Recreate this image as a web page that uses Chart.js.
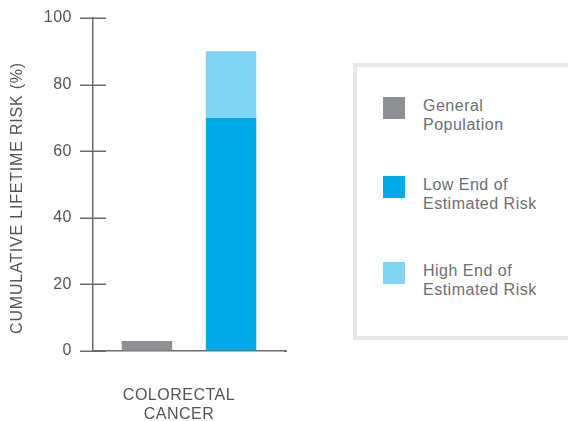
<!DOCTYPE html>
<html>
<head>
<meta charset="utf-8">
<script src="https://cdn.jsdelivr.net/npm/chart.js@4.4.1/dist/chart.umd.min.js"></script>
<style>
  html, body { margin:0; padding:0; background:#fff; overflow:hidden; }
  #wrap { position:relative; width:568px; height:421px; }
  #chartBox { position:absolute; left:0; top:0; width:300px; height:421px; }
  #legendBox {
    position:absolute; left:353px; top:63px; width:250px; height:269px;
    border:4px solid #e6e7e8; background:#fff; box-sizing:content-box;
  }
  .leg-item { position:absolute; left:26px; display:flex; align-items:flex-start; }
  .leg-item:nth-child(1) { top:30px; }
  .leg-item:nth-child(2) { top:109px; }
  .leg-item:nth-child(3) { top:195px; }
  .leg-swatch { width:22px; height:22px; flex:none; }
  .leg-text {
    margin-left:18px; margin-top:-1px;
    font:16px "Liberation Sans", Arial, sans-serif; line-height:19px;
    letter-spacing:0.5px; color:#6d6e71;
  }
</style>
</head>
<body>
<div id="wrap">
  <div id="chartBox"><canvas id="riskChart"></canvas></div>
  <div id="legendBox"></div>
</div>
<script>
// ---- data ----
const categories = [['COLORECTAL', 'CANCER']];
const generalPopulation = [3];
const lowEndRisk = [70];
const highEndRisk = [90];
const yTicks = [0, 20, 40, 60, 80, 100];
const seriesNames = [['General', 'Population'], ['Low End of', 'Estimated Risk'], ['High End of', 'Estimated Risk']];
const seriesColors = ['#8f9094', '#00aae6', '#81d5f4'];
const yTitle = 'CUMULATIVE LIFETIME RISK (%)';

const AXIS_COLOR = '#6a6a6a';
const TEXT_COLOR = '#555';
const FONT = '"Liberation Sans", Arial, sans-serif';

// tick marks that cross the y axis, baseline overhang, and the y title
const axisDecor = {
  id: 'axisDecor',
  beforeDraw(chart) { chart.ctx.letterSpacing = '0.5px'; },
  afterDraw(chart) {
    const ctx = chart.ctx, y = chart.scales.y, x = chart.scales.x;
    const x0 = y.right;
    ctx.save();
    ctx.letterSpacing = '0px';
    ctx.strokeStyle = AXIS_COLOR;
    ctx.lineWidth = 1.5;
    yTicks.forEach(v => {
      const py = Math.round(y.getPixelForValue(v)) + 0.25;
      ctx.beginPath();
      ctx.moveTo(x0 - 13, py);
      ctx.lineTo(x0 + 13, py);
      ctx.stroke();
    });
    const by = Math.round(y.getPixelForValue(0)) + 0.25;
    ctx.beginPath();
    ctx.moveTo(x.right - 1, by);
    ctx.lineTo(x.right + 2, by);
    ctx.stroke();
    ctx.translate(18, 198);
    ctx.rotate(-Math.PI / 2);
    ctx.letterSpacing = '0.8px';
    ctx.font = '16px ' + FONT;
    ctx.fillStyle = TEXT_COLOR;
    ctx.textAlign = 'center';
    ctx.textBaseline = 'middle';
    ctx.fillText(yTitle, 0, 0);
    ctx.restore();
  }
};

const datasets = [
  { label: seriesNames[0].join(' '), data: generalPopulation, backgroundColor: seriesColors[0], stack: 'gp' },
  { label: seriesNames[1].join(' '), data: lowEndRisk, backgroundColor: seriesColors[1], stack: 'est' },
  { label: seriesNames[2].join(' '), data: highEndRisk.map((v, i) => v - lowEndRisk[i]), backgroundColor: seriesColors[2], stack: 'est' }
];

new Chart(document.getElementById('riskChart'), {
  type: 'bar',
  data: { labels: categories, datasets },
  options: {
    responsive: true,
    maintainAspectRatio: false,
    animation: false,
    categoryPercentage: 0.876,
    barPercentage: 0.6,
    layout: { padding: { top: 18, right: 15, left: 0, bottom: 0 } },
    plugins: { legend: { display: false }, tooltip: { enabled: false } },
    scales: {
      x: {
        stacked: true,
        afterFit(s) { s.height = 70; s.paddingLeft = 0; s.paddingRight = 0; },
        grid: { display: true, drawOnChartArea: false, drawTicks: false },
        border: { display: true, color: AXIS_COLOR, width: 1.5 },
        ticks: { color: TEXT_COLOR, font: { family: FONT, size: 16 }, padding: 35, labelOffset: -10 }
      },
      y: {
        stacked: true,
        min: 0, max: 100,
        afterFit(s) { s.width = 93; s.paddingTop = 0; s.paddingBottom = 0; },
        afterBuildTicks(s) { s.ticks = yTicks.map(v => ({ value: v })); },
        grid: { display: true, drawOnChartArea: false, drawTicks: false },
        border: { display: true, color: AXIS_COLOR, width: 1.5 },
        ticks: { color: TEXT_COLOR, font: { family: FONT, size: 16 }, padding: 21 }
      }
    }
  },
  plugins: [axisDecor]
});

// html legend built from the series
const legendBox = document.getElementById('legendBox');
seriesNames.forEach((name, i) => {
  const item = document.createElement('div');
  item.className = 'leg-item';
  item.innerHTML = `<div class="leg-swatch" style="background:${seriesColors[i]}"></div>
    <div class="leg-text">${name.join('<br>')}</div>`;
  legendBox.appendChild(item);
});
</script>
</body>
</html>
